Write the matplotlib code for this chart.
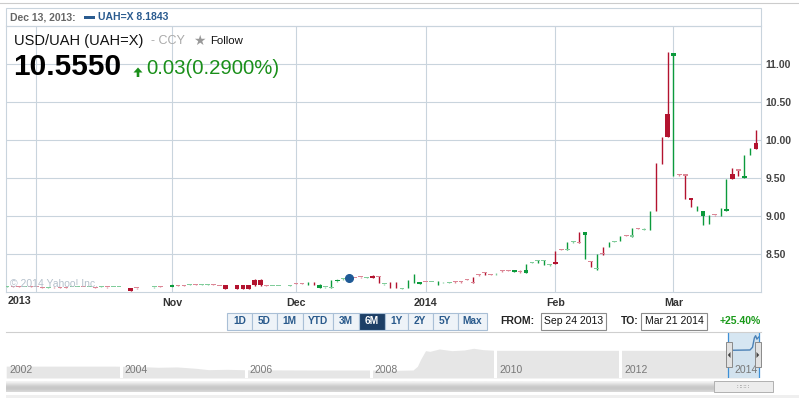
import numpy as np
import pandas as pd
import matplotlib
matplotlib.use("Agg")
import matplotlib.pyplot as plt
from matplotlib.patches import Rectangle, Polygon
from matplotlib.lines import Line2D

plt.rcParams['font.family'] = ['Liberation Sans', 'DejaVu Sans']

W, H = 799, 398

# trading days shown (Jan 1 has no quote)
dates = pd.bdate_range('2013-09-24', '2014-03-21')
dates = dates[dates != pd.Timestamp('2014-01-01')]

nan = float('nan')
opens = [8.068, 8.072, 8.070, 8.066, 8.070, 8.066, 8.062, 8.058, 8.062, 8.060,
         8.060, 8.064, 8.068, 8.066, 8.064, 8.064, 8.070, 8.064, 8.064, 8.064,
         8.068, 8.055, 8.052, nan, nan, 8.060, 8.070, 8.076, 8.072, 8.082,
         8.082, 8.088, 8.096, 8.090, 8.094, 8.098, 8.082, 8.090, nan, 8.088,
         8.088, 8.088, 8.160, 8.160, 8.084, 8.076, 8.076, 8.078, 8.080, 8.116,
         8.112, 8.110, 8.112, 8.052, 8.066, 8.050, 8.140, 8.168, 8.176, 8.186,
         8.196, 8.182, 8.216, 8.206, 8.100, 8.095, 8.095, 8.042, 8.100, 8.170,
         8.102, 8.136, 8.128, 8.120, 8.128, 8.120, 8.140, 8.140, 8.166, 8.128,
         8.232, 8.256, 8.232, 8.236, 8.290, 8.282, 8.262, 8.280, 8.250, 8.386,
         8.404, 8.412, 8.350, 8.390, 8.566, 8.552, 8.654, 8.655, 8.752, 8.410,
         8.300, 8.516, 8.620, 8.656, 8.700, 8.752, 8.726, 8.846, 8.820, 8.940,
         9.380, 9.860, 10.342, 11.106, 9.552, 9.548, 9.236, 9.100, 9.000, 8.950,
         9.014, 9.050, 9.068, 9.550, 9.618, 9.500, 9.850, 9.957]
highs = [8.074, 8.076, 8.074, 8.072, 8.074, 8.070, 8.066, 8.064, 8.066, 8.064,
         8.062, 8.070, 8.072, 8.070, 8.068, 8.066, 8.078, 8.068, 8.070, 8.070,
         8.072, 8.058, 8.056, nan, nan, 8.066, 8.073, 8.080, 8.100, 8.086,
         8.086, 8.104, 8.100, 8.106, 8.110, 8.100, 8.084, 8.092, nan, 8.090,
         8.090, 8.090, 8.165, 8.165, 8.086, 8.082, 8.082, 8.080, 8.092, 8.118,
         8.114, 8.127, 8.126, 8.102, 8.072, 8.162, 8.168, 8.180, 8.190, 8.190,
         8.200, 8.196, 8.222, 8.212, 8.110, 8.130, 8.130, 8.058, 8.158, 8.237,
         8.134, 8.138, 8.138, 8.150, 8.136, 8.126, 8.144, 8.142, 8.170, 8.200,
         8.236, 8.266, 8.236, 8.246, 8.292, 8.286, 8.292, 8.284, 8.364, 8.396,
         8.422, 8.424, 8.368, 8.543, 8.568, 8.662, 8.668, 8.793, 8.788, 8.414,
         8.500, 8.596, 8.662, 8.672, 8.737, 8.754, 8.846, 8.848, 8.838, 9.070,
         9.693, 10.043, 11.154, 11.150, 9.556, 9.556, 9.238, 9.130, 9.062, 9.013,
         9.016, 9.101, 9.483, 9.628, 9.620, 9.803, 9.890, 10.132]
lows = [8.066, 8.067, 8.066, 8.062, 8.064, 8.060, 8.055, 8.056, 8.058, 8.056,
        8.052, 8.062, 8.064, 8.062, 8.060, 8.056, 8.068, 8.058, 8.062, 8.062,
        8.064, 8.012, 8.044, nan, nan, 8.058, 8.066, 8.074, 8.070, 8.078,
        8.078, 8.086, 8.092, 8.088, 8.092, 8.090, 8.078, 8.034, nan, 8.044,
        8.044, 8.044, 8.082, 8.082, 8.074, 8.074, 8.074, 8.076, 8.078, 8.108,
        8.108, 8.095, 8.094, 8.048, 8.058, 8.048, 8.138, 8.164, 8.172, 8.178,
        8.188, 8.180, 8.182, 8.114, 8.094, 8.058, 8.058, 8.040, 8.052, 8.118,
        8.100, 8.126, 8.126, 8.095, 8.124, 8.118, 8.118, 8.118, 8.160, 8.114,
        8.214, 8.226, 8.226, 8.228, 8.265, 8.272, 8.258, 8.256, 8.246, 8.384,
        8.382, 8.356, 8.346, 8.362, 8.552, 8.548, 8.650, 8.645, 8.430, 8.325,
        8.296, 8.488, 8.588, 8.654, 8.670, 8.738, 8.722, 8.830, 8.816, 8.816,
        9.070, 9.684, 10.040, 9.526, 9.530, 9.224, 9.122, 9.068, 8.882, 8.895,
        9.006, 9.000, 9.066, 9.482, 9.526, 9.498, 9.803, 9.876]
closes = [8.072, 8.069, 8.068, 8.070, 8.066, 8.062, 8.058, 8.062, 8.060, 8.058,
          8.055, 8.068, 8.070, 8.064, 8.066, 8.058, 8.076, 8.060, 8.068, 8.068,
          8.066, 8.016, 8.047, nan, nan, 8.064, 8.068, 8.078, 8.098, 8.080,
          8.080, 8.100, 8.094, 8.104, 8.108, 8.092, 8.080, 8.036, nan, 8.046,
          8.046, 8.046, 8.086, 8.086, 8.077, 8.080, 8.080, 8.079, 8.084, 8.110,
          8.110, 8.111, 8.111, 8.098, 8.070, 8.058, 8.162, 8.176, 8.184, 8.180,
          8.192, 8.192, 8.186, 8.198, 8.104, 8.094, 8.094, 8.056, 8.101, 8.171,
          8.130, 8.128, 8.134, 8.121, 8.129, 8.124, 8.136, 8.136, 8.162, 8.118,
          8.224, 8.252, 8.228, 8.237, 8.274, 8.276, 8.286, 8.266, 8.286, 8.392,
          8.418, 8.420, 8.364, 8.366, 8.556, 8.560, 8.664, 8.648, 8.784, 8.390,
          8.318, 8.496, 8.621, 8.668, 8.701, 8.742, 8.744, 8.834, 8.834, 8.941,
          9.379, 9.859, 10.046, 11.148, 9.538, 9.530, 9.214, 9.101, 9.060, 8.951,
          9.008, 9.051, 9.098, 9.484, 9.598, 9.524, 9.851, 9.878]

y_ticks = [8.5, 9.0, 9.5, 10.0, 10.5, 11.0]
month_labels = ['', 'Nov', 'Dec', '2014', 'Feb', 'Mar']

# long-range navigator series (year, rate)
nav_years = [2002.16, 2003.0, 2003.9, 2004.3, 2004.6, 2004.9, 2005.2, 2005.4, 2005.7, 2006.0,
             2007.0, 2008.0, 2008.4, 2008.68, 2008.75, 2008.8, 2008.88, 2008.95, 2009.1, 2009.3,
             2009.5, 2009.65, 2009.8, 2010.0, 2011.0, 2012.0, 2013.0, 2013.73, 2014.08, 2014.12,
             2014.15, 2014.17, 2014.19, 2014.22]
nav_vals = [5.62, 5.62, 5.62, 5.55, 5.45, 5.50, 5.30, 5.10, 5.15, 5.08,
            5.05, 5.05, 5.00, 5.05, 5.60, 6.60, 7.90, 7.80, 8.15, 7.90,
            8.00, 8.25, 8.05, 7.95, 7.95, 7.95, 7.95, 7.95, 8.00, 8.40,
            9.80, 10.10, 9.60, 9.90]

buttons = ['1D', '5D', '1M', 'YTD', '3M', '6M', '1Y', '2Y', '5Y', 'Max']


def fx(x):
    return x / W


def fy(y):
    return 1 - y / H


def frect(x0, y0, x1, y1, **kw):
    r = Rectangle((fx(x0), fy(y1)), (x1 - x0) / W, (y1 - y0) / H,
                  transform=fig.transFigure, **kw)
    fig.add_artist(r)
    return r


fig = plt.figure(figsize=(W / 100, H / 100), dpi=100)
fig.patch.set_facecolor('white')

grid_c = '#c9d4dd'

# ---- main candlestick panel
ax = fig.add_axes([fx(6), fy(292), (761 - 6) / W, (292 - 26) / H])
o = np.array(opens)
h = np.array(highs)
l = np.array(lows)
c = np.array(closes)
x = np.arange(len(dates))
up = c >= o
body = np.abs(c - o)
pale_body = body < 0.02
pale_wick = (h - l) < 0.03

dark_up, pale_up = '#0b9a3c', '#80cc9a'
dark_dn, pale_dn = '#b3132f', '#dc8796'

wick_cols = np.array([(pale_up if pw else dark_up) if u else (pale_dn if pw else dark_dn)
                      for u, pw in zip(up, pale_wick)])
body_cols = np.array([(pale_up if p else dark_up) if u else (pale_dn if p else dark_dn)
                      for u, p in zip(up, pale_body)])

ok = ~np.isnan(c)
ax.vlines(x[ok], l[ok], h[ok], colors=wick_cols[ok], lw=1.0, zorder=3)
vis = ok & (body >= 0.002)
bh = np.maximum(body[vis], 0.014)
ax.bar(x[vis], bh, bottom=np.minimum(o, c)[vis], width=0.8,
       color=body_cols[vis], lw=0, zorder=4)

# highlighted quote (Dec 13)
di = list(dates).index(pd.Timestamp('2013-12-13'))
ax.plot(x[di], c[di], 'o', ms=5.5, color='#1f5a96', zorder=5)

ax.set_xlim(-0.17, len(x) - 1 + 0.85)
ax.set_ylim(8.0, 11.5)
ax.yaxis.tick_right()
ax.set_yticks(y_ticks)
ax.set_yticklabels([f'{v:.2f}' for v in y_ticks])
month_idx = [int(np.argmax(dates.month == m)) for m in [10, 11, 12, 1, 2, 3]]
ax.set_xticks(month_idx)
ax.set_xticklabels(month_labels)
ax.tick_params(axis='y', length=0, pad=3, labelsize=7.5, labelcolor='#444')
ax.tick_params(axis='x', length=0, pad=4.5, labelsize=7.7, labelcolor='#333')
for t in ax.get_xticklabels() + ax.get_yticklabels():
    t.set_fontweight('bold')
ax.grid(True, color=grid_c, lw=0.8)
ax.set_axisbelow(True)
for s in ax.spines.values():
    s.set_color(grid_c)
    s.set_linewidth(0.8)

fig.text(fx(7.5), fy(301), '2013', ha='left', va='center', fontsize=7.7,
         fontweight='bold', color='#333')
fig.text(fx(10), fy(284), '\u00a9 2014 Yahoo! Inc.', ha='left', va='center',
         fontsize=7.5, color='#b4c0cb', zorder=10)

# ---- header
fig.add_artist(Line2D([0, 1], [fy(2.5), fy(2.5)], color='#cccccc', lw=0.8,
                      transform=fig.transFigure))
frect(6, 8, 761, 26, fill=False, ec=grid_c, lw=0.8)
fig.text(fx(10), fy(17), 'Dec 13, 2013:', fontsize=7.5, fontweight='bold',
         color='#666666', va='center')
frect(84, 15.5, 95, 18.5, color='#2a5b8f', lw=0)
fig.text(fx(98), fy(17), 'UAH=X 8.1843', fontsize=7.5, fontweight='bold',
         color='#2a5b8f', va='center')

fig.text(fx(14), fy(41), 'USD/UAH (UAH=X)', fontsize=10.5, color='#111', va='center')
fig.text(fx(151), fy(41), '- CCY', fontsize=9, color='#aaaaaa', va='center')
fig.text(fx(193), fy(40.5), '\u2605', fontsize=10, color='#999999', va='center',
         family='DejaVu Sans')
fig.text(fx(210), fy(41.5), 'Follow', fontsize=8.2, color='#111', va='center')
fig.text(fx(13), fy(67), '10.5550', fontsize=21.5, fontweight='bold', color='#000',
         va='center')
arrow = [(133.5, 72.5), (138, 67.5), (142.5, 72.5), (139.3, 72.5), (139.3, 77),
         (136.7, 77), (136.7, 72.5)]
fig.add_artist(Polygon([(fx(a), fy(b)) for a, b in arrow], closed=True,
                       transform=fig.transFigure, color='#1a8f1a', lw=0))
fig.text(fx(146), fy(69), '0.03(0.2900%)', fontsize=14.7, color='#1a8f1a', va='center')

# ---- range buttons
edges = [227, 252, 277, 302.5, 332.6, 359, 384.7, 408, 432.6, 457.6, 487]
for i, lab in enumerate(buttons):
    sel = lab == '6M'
    frect(edges[i], 313, edges[i + 1], 330, fc='#1d3f66' if sel else '#eef3f8',
          ec='#a9bfd6', lw=0.8)
    fig.text(fx((edges[i] + edges[i + 1]) / 2), fy(321.5), lab, ha='center', va='center',
             fontsize=7.3, fontweight='bold', color='white' if sel else '#2a5a8c')

fig.text(fx(500), fy(321.5), 'FROM:', fontsize=7.5, fontweight='bold', color='#222',
         va='center')
frect(541, 313, 606, 330, fc='white', ec='#8c8c8c', lw=0.8)
fig.text(fx(573.5), fy(321.5), 'Sep 24 2013', fontsize=7.5, color='#111', ha='center',
         va='center')
fig.text(fx(621), fy(321.5), 'TO:', fontsize=7.5, fontweight='bold', color='#222',
         va='center')
frect(641, 313, 707, 330, fc='white', ec='#8c8c8c', lw=0.8)
fig.text(fx(674), fy(321.5), 'Mar 21 2014', fontsize=7.5, color='#111', ha='center',
         va='center')
fig.text(fx(720), fy(321.5), '+25.40%', fontsize=7.5, fontweight='bold', color='#1a9a1a',
         va='center')

# ---- navigator
fig.add_artist(Line2D([fx(6), fx(761)], [fy(332), fy(332)], color='#cfcfcf', lw=0.8,
                      transform=fig.transFigure))
nav = fig.add_axes([fx(6), fy(378), 755 / W, 46 / H])
nlo, nhi = 3.87, 10.65
nav.fill_between(nav_years, nav_vals, nlo, color='#e6e6e6', lw=0)
x0, x1 = 2002.157, 2014.256
nav.set_xlim(x0, x1)
nav.set_ylim(nlo, nhi)
nav.axis('off')
for yr in range(2004, 2014, 2):
    nav.axvline(yr, color='white', lw=2.2)
for yr in range(2002, 2015, 2):
    if yr == 2014:
        nav.text(x1 - 0.05, 5.1, str(yr), ha='right', va='center', fontsize=7.5,
                 color='#777')
    else:
        nav.text(max(yr, x0) + 0.06, 5.1, str(yr), ha='left', va='center', fontsize=7.5,
                 color='#777')


def dec_year(d):
    return d.year + (d.dayofyear - 1) / 365.0


s0, s1 = dec_year(dates[0]), dec_year(dates[-1])
nav.axvspan(s0, s1, color='#cfe2f0', alpha=0.85, lw=0)
ny = np.array(nav_years)
nv = np.array(nav_vals)
m = ny >= s0 - 0.01
nav.plot(ny[m], nv[m], color='#4a80b5', lw=1)
nav.axvline(s0, color='#3d8fd6', lw=0.9)
nav.axvline(s1, color='#3d8fd6', lw=0.9)

frect(726, 342, 732, 367, fc='#e2e2e2', ec='#8a8a8a', lw=0.7)
frect(755, 342, 761, 367, fc='#e2e2e2', ec='#8a8a8a', lw=0.7)
for pts in ([(730.5, 352), (730.5, 358), (727.8, 355)],
            [(756.5, 352), (756.5, 358), (759.2, 355)]):
    fig.add_artist(Polygon([(fx(a), fy(b)) for a, b in pts], closed=True,
                           transform=fig.transFigure, color='#444', lw=0))

# ---- scrollbar
sb = fig.add_axes([fx(6), fy(392), (714 - 6) / W, 11 / H])
sb.imshow(np.array([[0.95], [0.90], [0.84], [0.80], [0.78], [0.80], [0.84]]), cmap='gray',
          vmin=0, vmax=1, aspect='auto', interpolation='bilinear')
sb.axis('off')
frect(714, 381, 773, 392, fc='#ececec', ec='#b0b0b0', lw=0.7)
fig.text(fx(743.5), fy(386.5), '\u2237\u2237\u2237', fontsize=5, color='#999',
         ha='center', va='center', family='DejaVu Sans')
frect(6, 395, 799, 398, fc='#efefef', lw=0)

fig.savefig('out.png', dpi=100)
